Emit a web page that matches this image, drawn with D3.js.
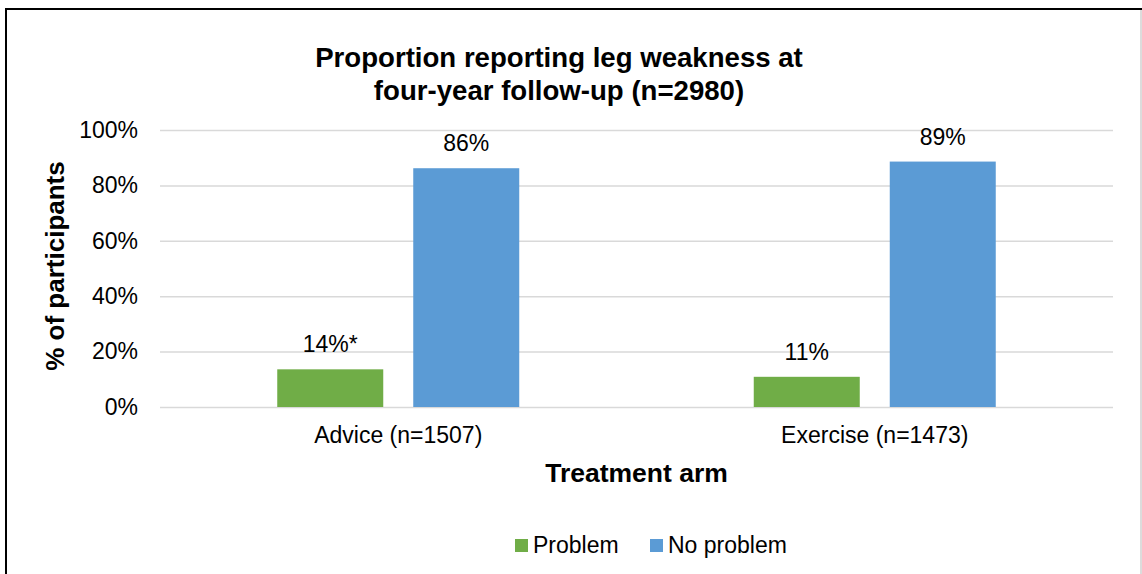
<!DOCTYPE html>
<html>
<head>
<meta charset="utf-8">
<script src="https://cdn.jsdelivr.net/npm/d3@7"></script>
<style>
  body { margin: 0; background: #fff; }
  svg text { font-family: "Liberation Sans", Arial, sans-serif; fill: #000; }
</style>
</head>
<body>
<svg id="chart" width="1142" height="574"></svg>
<script>
// data
var arms = ['Advice (n=1507)', 'Exercise (n=1473)'];
var seriesNames = ['Problem', 'No problem'];
var problem = [13.6, 10.9];
var noProblem = [86.2, 88.6];
var problemLabels = ['14%*', '11%'];
var noProblemLabels = ['86%', '89%'];
var yTicks = [0, 20, 40, 60, 80, 100];
var colors = ['#70ad47', '#5b9bd5'];

var svg = d3.select('#chart');
var width = 1142;
var height = 574;
var plot_left = 160;
var plot_right = 1113;
var plot_top = 130;
var plot_bottom = 407;
var bar_w = 106;
var bar_gap = 30;

// frame
svg.append('line').attr('x1', 6).attr('x2', width).attr('y1', 9).attr('y2', 9)
    .attr('stroke', '#000').attr('stroke-width', 2);
svg.append('line').attr('x1', 6).attr('x2', 6).attr('y1', 8).attr('y2', height)
    .attr('stroke', '#000').attr('stroke-width', 2);
svg.append('line').attr('x1', 1141).attr('x2', 1141).attr('y1', 10).attr('y2', height)
    .attr('stroke', '#d0d0d0').attr('stroke-width', 1.5);

var x = d3.scaleBand().domain(arms).range([plot_left, plot_right]);
var group_w = 2 * bar_w + bar_gap;
var xs = d3.scaleBand().domain(seriesNames).range([-group_w / 2, group_w / 2])
    .paddingInner(bar_gap / (bar_w + bar_gap));
var y = d3.scaleLinear().domain([0, 100]).range([plot_bottom, plot_top]);

// gridlines + y tick labels
var yAxis = d3.axisLeft(y).tickValues(yTicks)
    .tickSize(-(plot_right - plot_left)).tickPadding(22)
    .tickFormat(function(d) { return d + '%'; });
var gy = svg.append('g').attr('transform', 'translate(' + plot_left + ',0)').call(yAxis);
gy.select('.domain').remove();
gy.selectAll('line').attr('stroke', '#d9d9d9').attr('stroke-width', 1.5);
gy.selectAll('text').style('font-size', '23px')
    .style('font-family', '"Liberation Sans", Arial, sans-serif').attr('fill', '#000');

// x labels
var xAxis = d3.axisBottom(x).tickSize(0).tickPadding(20);
var gx = svg.append('g').attr('transform', 'translate(0,' + plot_bottom + ')').call(xAxis);
gx.select('.domain').remove();
gx.selectAll('text').style('font-size', '23px')
    .style('font-family', '"Liberation Sans", Arial, sans-serif').attr('fill', '#000');

// bars
var rows = [];
arms.forEach(function(a, i) {
    rows.push({arm: a, s: seriesNames[0], v: problem[i], label: problemLabels[i], c: colors[0]});
    rows.push({arm: a, s: seriesNames[1], v: noProblem[i], label: noProblemLabels[i], c: colors[1]});
});
var cx = function(d) { return x(d.arm) + x.bandwidth() / 2 + xs(d.s); };

svg.append('g').selectAll('rect').data(rows).join('rect')
    .attr('x', cx)
    .attr('y', function(d) { return y(d.v); })
    .attr('width', xs.bandwidth())
    .attr('height', function(d) { return y(0) - y(d.v); })
    .attr('fill', function(d) { return d.c; });

svg.append('g').selectAll('text').data(rows).join('text')
    .attr('x', function(d) { return cx(d) + xs.bandwidth() / 2; })
    .attr('y', function(d) { return y(d.v) - 17; })
    .attr('text-anchor', 'middle')
    .style('font-size', '23px')
    .text(function(d) { return d.label; });

// title
var title = svg.append('text').attr('x', 559).attr('text-anchor', 'middle')
    .style('font-size', '27.6px').style('font-weight', 'bold');
title.append('tspan').attr('x', 559).attr('y', 67).text('Proportion reporting leg weakness at');
title.append('tspan').attr('x', 559).attr('y', 100).text('four-year follow-up (n=2980)');

// axis titles
svg.append('text').attr('x', (plot_left + plot_right) / 2).attr('y', 482)
    .attr('text-anchor', 'middle').style('font-size', '26.5px').style('font-weight', 'bold')
    .text('Treatment arm');
svg.append('text').attr('transform', 'translate(64,266) rotate(-90)')
    .attr('text-anchor', 'middle').style('font-size', '26px').style('font-weight', 'bold')
    .text('% of participants');

// legend
var legend = svg.append('g');
var legendX = [515, 650];
seriesNames.forEach(function(s, i) {
    legend.append('rect').attr('x', legendX[i]).attr('y', 539).attr('width', 13).attr('height', 13)
        .attr('fill', colors[i]);
    legend.append('text').attr('x', legendX[i] + 18).attr('y', 553)
        .style('font-size', '23px').text(s);
});
</script>
</body>
</html>
